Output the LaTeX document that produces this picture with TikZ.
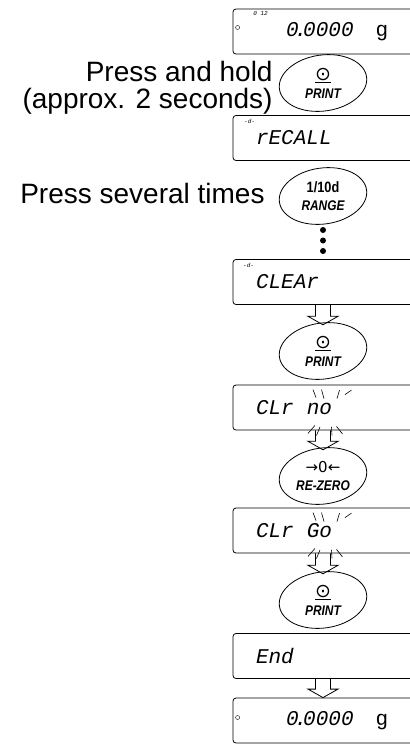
\documentclass[tikz,border=0pt]{standalone}
\usepackage{fontspec}
\setmainfont{Liberation Sans}
\newfontfamily\lcdfont{Liberation Mono}
\newfontfamily\keyfont[FakeStretch=0.85]{Liberation Sans}
\newfontfamily\symfont{DejaVu Sans}
\usetikzlibrary{shapes.geometric,calc,positioning}

\begin{document}
\begin{tikzpicture}[x=1pt,y=-1pt,
  lcd/.style={draw,line width=0.8pt,rounded corners=3pt,minimum width=180pt,minimum height=45pt,
    inner xsep=23pt,inner ysep=0pt,text width=134pt,align=left,
    font=\lcdfont\itshape\fontsize{21}{21}\selectfont},
  keybtn/.style={ellipse,inner sep=0pt,minimum width=88pt,minimum height=56pt,align=center,
    font=\keyfont\bfseries\itshape\fontsize{14}{18}\selectfont},
  hint/.style={font=\fontsize{28}{27}\selectfont,align=right,inner sep=0pt},
  keyline/.style={line width=0.8pt},
  blink/.style={line width=0.6pt},
  tag/.style={font=\lcdfont\itshape\fontsize{6}{6}\selectfont,inner sep=0pt}]
  \useasboundingbox (0,0) rectangle (410,745);
  % displays
  \node[lcd] (b1) at (323,31.5) {\hspace*{30pt}0\kern-4pt.\kern-4pt0000\hspace{22pt}\upshape g};
  \node[lcd] (b2) at (323,138) {rECALL};
  \node[lcd] (b3) at (323,282) {CLEAr};
  \node[lcd] (b4) at (323,407.5) {CLr\hspace{6pt} no};
  \node[lcd] (b5) at (323,530.5) {CLr\hspace{6pt} Go};
  \node[lcd] (b6) at (323,656) {End};
  \node[lcd] (b7) at (323,720.5) {\hspace*{30pt}0\kern-4pt.\kern-4pt0000\hspace{22pt}\upshape g};
  \node[tag] (w1) at ($(b1.north west)+(28,5)$) {0 12};
  \node[tag] (d2) at ($(b2.north west)+(17,6)$) {-d-};
  \node[tag] (d3) at ($(b3.north west)+(16,6)$) {-d-};
  \draw ($(b1.west)+(5,-4)$) circle (2pt);
  \draw ($(b7.west)+(5,-3)$) circle (2pt);
  % keys
  \node[keybtn] (e1) at (323,83) {{\symfont\mdseries\upshape\fontsize{19}{14}\selectfont\underline{⊙}}\\PRINT};
  \node[keybtn] (e2) at (323,196) {{\upshape\fontsize{15}{15}\selectfont 1/10d}\\RANGE};
  \node[keybtn] (e3) at (323,351) {{\symfont\mdseries\upshape\fontsize{19}{14}\selectfont\underline{⊙}}\\PRINT};
  \node[keybtn] (e4) at (323,476) {{\symfont\mdseries\upshape\fontsize{15}{14}\selectfont →0←}\\RE-ZERO};
  \node[keybtn] (e5) at (323,600) {{\symfont\mdseries\upshape\fontsize{19}{14}\selectfont\underline{⊙}}\\PRINT};
  \foreach \k in {e1,e2,e3,e4,e5}
    \draw[keyline,rotate around={8:(\k.center)}] (\k.center) ellipse [x radius=44pt,y radius=28pt];
  % hints
  \node[hint,anchor=east] (hold) at ($(e1.west)+(-6,5)$) {Press and hold\\(approx. 2 seconds)};
  \node[hint,anchor=east] (several) at ($(e2.west)+(-14,-3)$) {Press several times};
  \foreach \y in {230,240.5,251} \fill (323,\y) circle (3pt);
  % arrows
  \foreach \a/\b/\d in {b3/e3/2,b4/e4/2,b5/e5/2,b6/b7/0}
    \draw[keyline] let \p1=(\a.south), \p2=($(\b.north)+(0,\d)$) in
      (\x1-7.5pt,\y1)--(\x1-7.5pt,\y2+8.5pt)--(\x1-15pt,\y2+8.5pt)--(\x1,\y2)
      --(\x1+15pt,\y2+8.5pt)--(\x1+7.5pt,\y2+8.5pt)--(\x1+7.5pt,\y1);
  % blinking
  \foreach \b in {b4,b5} {
    \draw[blink] ($(\b.north)+(-10,5)$)--++(3,8);
    \draw[blink] ($(\b.north)+(-1.5,5)$)--++(2.5,9);
    \draw[blink] ($(\b.north)+(14,14)$)--++(2.5,-8.5);
    \draw[blink] ($(\b.north)+(22,10)$)--++(6.5,-4.5);
    \draw[blink] ($(\b.south)+(-15,3)$)--++(7,-8);
    \draw[blink] ($(\b.south)+(-6.5,5)$)--++(3.5,-8.5);
    \draw[blink] ($(\b.south)+(8.5,-3.5)$)--++(0.5,8.5);
    \draw[blink] ($(\b.south)+(13.5,-4)$)--++(6,7.5);
  }
\end{tikzpicture}
\end{document}
